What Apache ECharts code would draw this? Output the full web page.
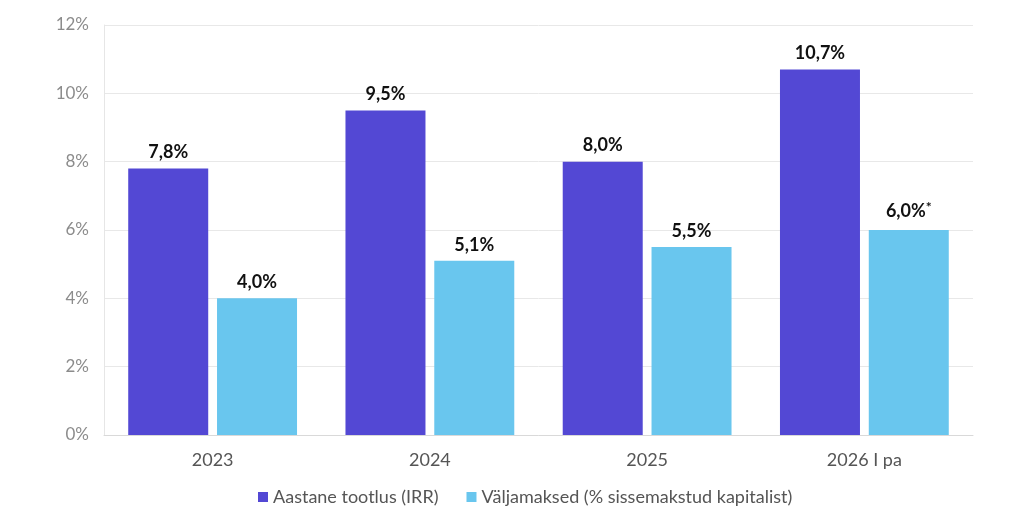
<!DOCTYPE html>
<html>
<head>
<meta charset="utf-8">
<script src="https://cdn.jsdelivr.net/npm/echarts@6/dist/echarts.min.js"></script>
<style>
  html, body { margin: 0; padding: 0; background: #fff; }
  #chart { width: 1024px; height: 527px; }
</style>
</head>
<body>
<div id="chart"></div>
<script>
// andmed
var years = ['2023', '2024', '2025', '2026 I pa']
var tootlus = [7.8, 9.5, 8.0, 10.7]
var valjamaksed = [4.0, 5.1, 5.5, 6.0]
var valjamaksedNote = ['', '', '', '*']
var seriesNames = ['Aastane tootlus (IRR)', 'Väljamaksed (% sissemakstud kapitalist)']

var fmt = function (v) {
    return v.toFixed(1).replace('.', ',') + '%'
}

var chart = echarts.init(document.getElementById('chart'))

var option = {
    animation: false,
    textStyle: { fontFamily: 'Lato' },
    grid: { left: 104, right: 51, top: 25, bottom: 92 },
    legend: {
        bottom: 16,
        left: 253,
        itemWidth: 10,
        itemHeight: 10,
        itemGap: 28,
        itemStyle: { borderWidth: 0 },
        icon: 'rect',
        textStyle: { fontSize: 18, color: '#555', fontFamily: 'Lato' },
        data: seriesNames
    },
    xAxis: {
        type: 'category',
        data: years,
        axisLine: { lineStyle: { color: '#d9d9d9' } },
        axisTick: { show: false },
        axisLabel: { fontSize: 18, color: '#555', margin: 16 }
    },
    yAxis: {
        type: 'value',
        min: 0,
        max: 12,
        interval: 2,
        axisLine: { show: true, lineStyle: { color: '#e6e6e6' } },
        splitLine: { lineStyle: { color: '#e8e8e8' } },
        axisLabel: { fontSize: 17, color: '#8c8c8c', margin: 15, formatter: '{value}%' }
    },
    series: [
        {
            name: seriesNames[0],
            type: 'bar',
            data: tootlus,
            barWidth: 80,
            barGap: '11%',
            itemStyle: { color: '#5348D4' },
            label: {
                show: true,
                position: 'top',
                distance: 7,
                fontSize: 18,
                fontWeight: 'bold',
                color: '#111',
                formatter: function (p) { return fmt(p.value) }
            }
        },
        {
            name: seriesNames[1],
            type: 'bar',
            data: valjamaksed,
            barWidth: 80,
            itemStyle: { color: '#69C6EE' },
            label: {
                show: true,
                position: 'top',
                distance: 7,
                color: '#111',
                formatter: function (p) {
                    var n = valjamaksedNote[p.dataIndex]
                    return '{v|' + fmt(p.value) + '}' + (n ? '{s|' + n + '}' : '')
                },
                rich: {
                    v: { fontSize: 18, fontWeight: 'bold', color: '#111', fontFamily: 'Lato' },
                    s: { fontSize: 14, fontWeight: 'bold', color: '#111', fontFamily: 'Lato', verticalAlign: 'top', padding: [0, 0, 9, 0] }
                }
            }
        }
    ]
}

chart.setOption(option)
</script>
</body>
</html>
